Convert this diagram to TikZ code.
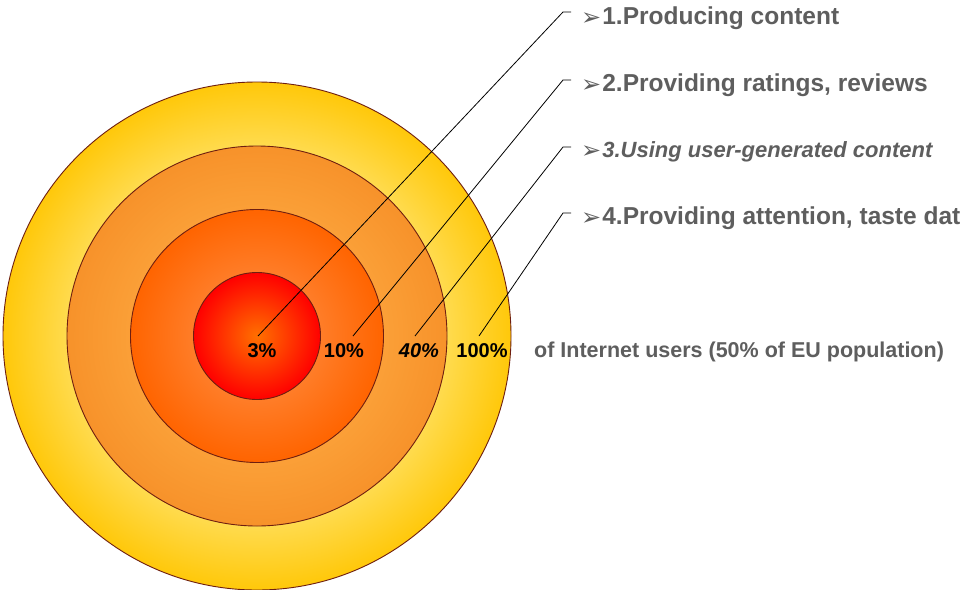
\documentclass[tikz,border=0pt]{standalone}
\usepackage{fontspec}
\setmainfont{Liberation Sans}
\newfontfamily\dingfont{DejaVu Sans}
\definecolor{edgebrown}{HTML}{6E1E10}
\definecolor{txtgray}{HTML}{5E5E5E}
\definecolor{goldout}{HTML}{FFC80A}
\definecolor{goldin}{HTML}{FFE060}
\definecolor{amberout}{HTML}{F7922A}
\definecolor{amberin}{HTML}{FCA43C}
\definecolor{orangeout}{HTML}{FF6400}
\definecolor{orangein}{HTML}{FF8230}
\definecolor{redout}{HTML}{FF0000}
\definecolor{redin}{HTML}{FF7000}
\pgfdeclareradialshading{shadeA}{\pgfpoint{0bp}{0bp}}{color(0bp)=(goldin); color(17bp)=(goldin); color(25bp)=(goldout); color(50bp)=(goldout)}
\pgfdeclareradialshading{shadeB}{\pgfpoint{0bp}{0bp}}{color(0bp)=(amberin); color(14bp)=(amberin); color(25bp)=(amberout); color(50bp)=(amberout)}
\pgfdeclareradialshading{shadeC}{\pgfpoint{0bp}{0bp}}{color(0bp)=(orangein); color(10bp)=(orangein); color(25bp)=(orangeout); color(50bp)=(orangeout)}
\pgfdeclareradialshading{shadeD}{\pgfpoint{0bp}{0bp}}{color(0bp)=(redin); color(25bp)=(redout); color(50bp)=(redout)}
\newcommand{\arrowbullet}{\raisebox{-1pt}{\dingfont\fontsize{24}{24}\selectfont ➢}\hspace{1pt}}
\begin{document}
\begin{tikzpicture}[x=1pt, y=-1pt,
    ring/.style={circle, draw=edgebrown, line width=0.9pt, inner sep=0pt},
    pct/.style={inner sep=0pt, font=\fontsize{20}{24}\selectfont\bfseries},
    item/.style={anchor=west, inner sep=0pt, text=txtgray, font=\fontsize{24.5}{28}\selectfont\bfseries},
    lead/.style={line width=0.8pt}]
        \fill[white] (0,0) rectangle (960,589);
        \useasboundingbox (0,0) rectangle (960,589);
        \def \cx {257}
        \def \cy {336}
        \node[ring, shading=shadeA, minimum size=508pt] (ring4) at (\cx, \cy) {};
        \node[ring, shading=shadeB, minimum size=380pt] (ring3) at (\cx, \cy) {};
        \node[ring, shading=shadeC, minimum size=253pt] (ring2) at (\cx, \cy) {};
        \node[ring, shading=shadeD, minimum size=127pt] (ring1) at (\cx, \cy) {};
        \node[pct] (p1) at (262, 351) {3\%};
        \node[pct] (p2) at (344, 351) {10\%};
        \node[pct, font=\fontsize{20}{24}\selectfont\bfseries\itshape] (p3) at (419, 351) {40\%};
        \node[pct] (p4) at (482, 351) {100\%};
        \node[item] (t1) at (581, 18) {\arrowbullet 1.Producing content};
        \node[item] (t2) at (581, 85) {\arrowbullet 2.Providing ratings, reviews};
        \node[item, font=\fontsize{22}{26}\selectfont\bfseries\itshape] (t3) at (581, 152) {\arrowbullet 3.Using user-generated content};
        \node[item] (t4) at (581, 218) {\arrowbullet 4.Providing attention, taste dat};
        \node[item, font=\fontsize{21.5}{26}\selectfont\bfseries] (t5) at (534, 352) {of Internet users (50\% of EU population)};
        \coordinate (s1) at (258, 336);
        \coordinate (s2) at (353, 336);
        \coordinate (s3) at (415, 336);
        \coordinate (s4) at (479, 336);
        \coordinate (b1) at (563, 12);
        \coordinate (b2) at (563, 80);
        \coordinate (b3) at (563, 147);
        \coordinate (b4) at (563, 213);
        \coordinate (e1) at (571, 12);
        \coordinate (e2) at (571, 80);
        \coordinate (e3) at (571, 147);
        \coordinate (e4) at (571, 213);
        \draw[lead] (s1) -- (b1) -- (e1);
        \draw[lead] (s2) -- (b2) -- (e2);
        \draw[lead] (s3) -- (b3) -- (e3);
        \draw[lead] (s4) -- (b4) -- (e4);
\end{tikzpicture}
\end{document}
